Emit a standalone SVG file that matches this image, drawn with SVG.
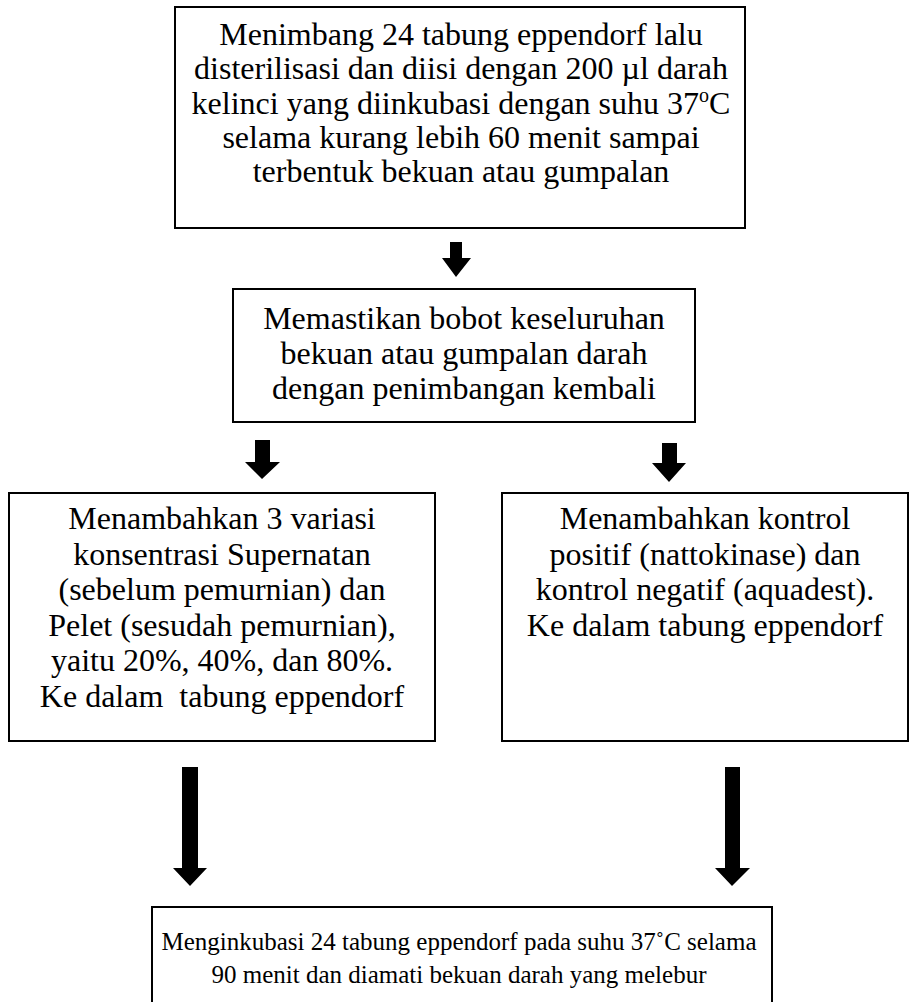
<svg xmlns="http://www.w3.org/2000/svg" width="916" height="1002" viewBox="0 0 916 1002">
<style>
.box{fill:#fff;stroke:#000;stroke-width:2}
.t{font-family:"Liberation Serif","Times New Roman",serif;font-size:32px;fill:#000;text-anchor:middle}
.tb{font-family:"Liberation Serif","Times New Roman",serif;font-size:25px;fill:#000;text-anchor:middle}
.arr{fill:#000}
</style>
<rect width="916" height="1002" fill="#fff"/>
<g id="connectors">
<polygon class="arr" points="450,242 462,242 462,258 471,258 456,277 442,258 450,258"/>
<polygon class="arr" points="255,440 270,440 270,462 280,462 262,479 245,462 255,462"/>
<polygon class="arr" points="662,443 677,443 677,463 686,463 669,482 652,463 662,463"/>
<polygon class="arr" points="182,767 198,767 198,868 207,868 190,886 173,868 182,868"/>
<polygon class="arr" points="725,767 740,767 740,868 750,868 732,886 715,868 725,868"/>
</g>
<g id="node1">
<rect class="box" x="175" y="7" width="570" height="221"/>
<text class="t" x="461" y="45">Menimbang 24 tabung eppendorf lalu</text>
<text class="t" x="461" y="79">disterilisasi dan diisi dengan 200 µl darah</text>
<text class="t" x="461" y="114">kelinci yang diinkubasi dengan suhu 37<tspan font-size="20" dy="-12">o</tspan><tspan dy="12">C</tspan></text>
<text class="t" x="461" y="148">selama kurang lebih 60 menit sampai</text>
<text class="t" x="461" y="182">terbentuk bekuan atau gumpalan</text>
</g>
<g id="node2">
<rect class="box" x="233" y="289" width="462" height="133"/>
<text class="t" x="464" y="329">Memastikan bobot keseluruhan</text>
<text class="t" x="464" y="364">bekuan atau gumpalan darah</text>
<text class="t" x="464" y="399">dengan penimbangan kembali</text>
</g>
<g id="node3">
<rect class="box" x="9" y="493" width="426" height="248"/>
<text class="t" x="222" y="529">Menambahkan 3 variasi</text>
<text class="t" x="222" y="565">konsentrasi Supernatan</text>
<text class="t" x="222" y="600">(sebelum pemurnian) dan</text>
<text class="t" x="222" y="636">Pelet (sesudah pemurnian),</text>
<text class="t" x="222" y="671">yaitu 20%, 40%, dan 80%.</text>
<text class="t" x="222" y="707" xml:space="preserve">Ke dalam  tabung eppendorf</text>
</g>
<g id="node4">
<rect class="box" x="502" y="493" width="406" height="248"/>
<text class="t" x="705" y="529">Menambahkan kontrol</text>
<text class="t" x="705" y="565">positif (nattokinase) dan</text>
<text class="t" x="705" y="600">kontrol negatif (aquadest).</text>
<text class="t" x="705" y="636">Ke dalam tabung eppendorf</text>
</g>
<g id="node5">
<rect class="box" x="152" y="907" width="620" height="120"/>
<text class="tb" x="459" y="950">Menginkubasi 24 tabung eppendorf pada suhu 37˚C selama</text>
<text class="tb" x="459" y="983">90 menit dan diamati bekuan darah yang melebur</text>
</g>
</svg>
